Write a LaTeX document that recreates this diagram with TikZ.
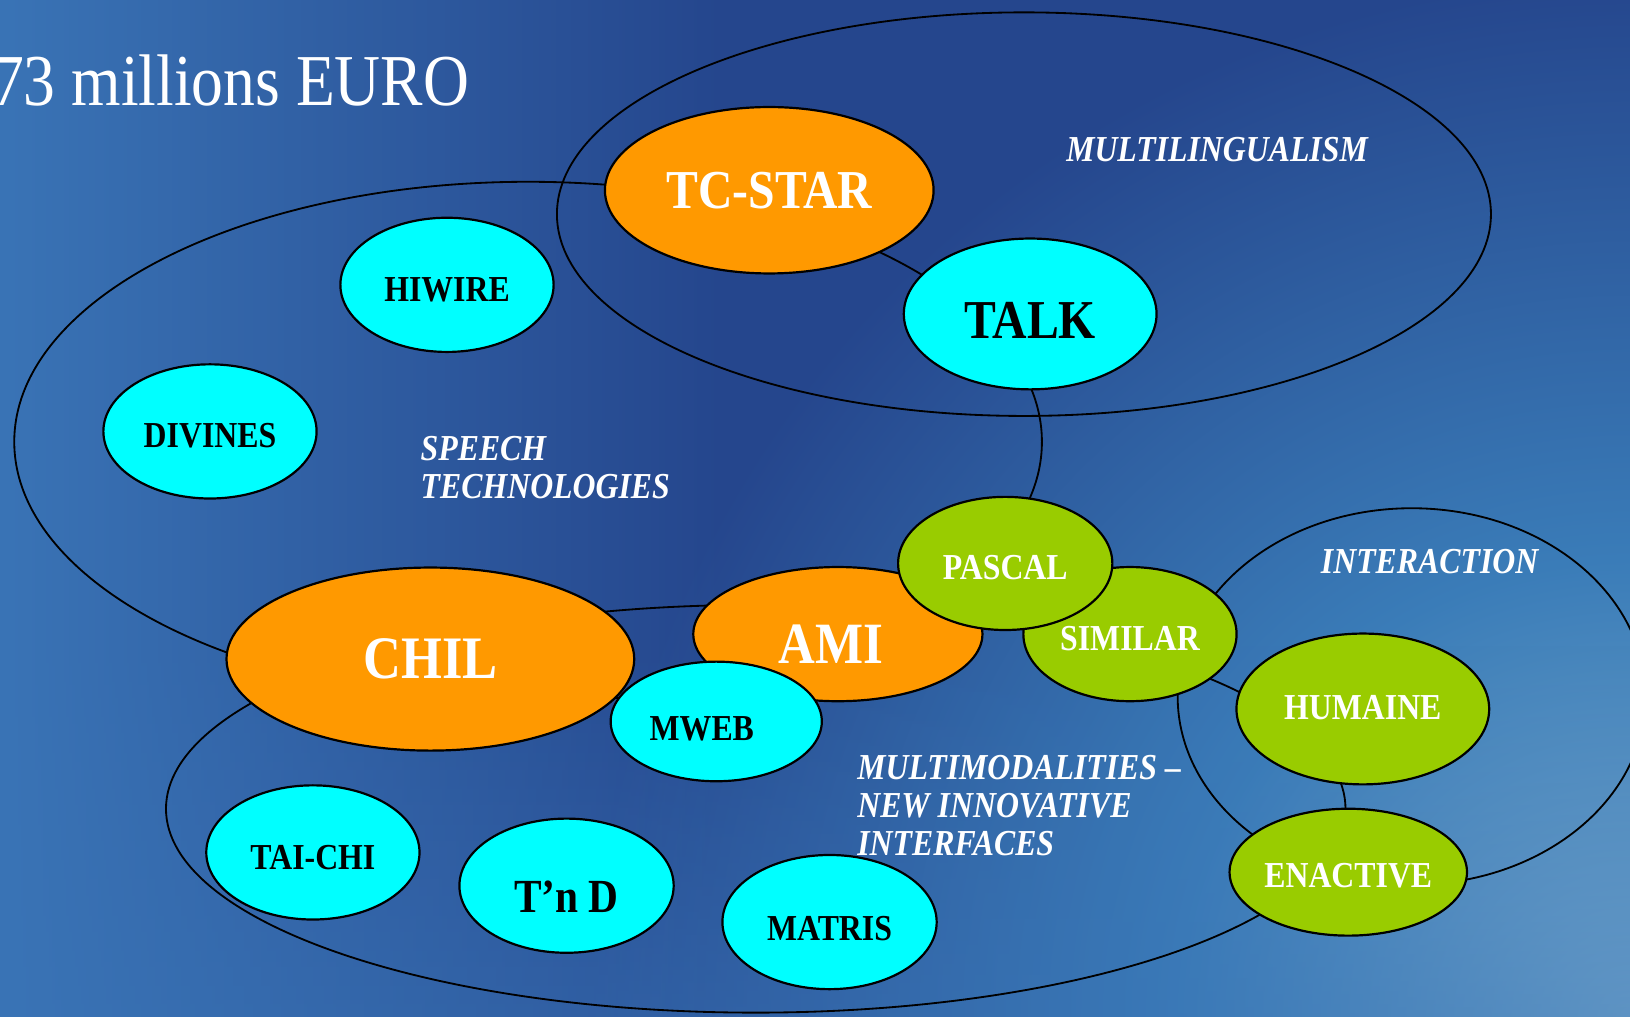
\documentclass[tikz,border=0pt]{standalone}
\usepackage{fontspec}
\setmainfont{Liberation Serif}
\newfontfamily\projfont[FakeStretch=0.87]{Liberation Serif}
\usepackage{xcolor}
\usepackage{tikz}
\usetikzlibrary{shapes.geometric, fadings}
\definecolor{bgdark}{HTML}{25468D}
\definecolor{bgleft}{HTML}{3A74B6}
\definecolor{bgmid}{HTML}{3A7CB8}
\definecolor{bgglow}{HTML}{7AACCE}
\definecolor{projorange}{HTML}{FF9900}
\definecolor{projcyan}{HTML}{00FFFF}
\definecolor{projgreen}{HTML}{99CC00}
\pgfdeclareradialshading{cornerglow}{\pgfpoint{0bp}{0bp}}{%
  color(0bp)=(bgglow); color(11bp)=(bgmid); color(25bp)=(bgdark); color(50bp)=(bgdark)}

\begin{document}
\begin{tikzpicture}[
  x=0.01cm, y=-0.01cm,
  group/.style={ellipse, draw=black, line width=0.5pt, inner sep=0pt},
  proj/.style={
    ellipse, draw=black, line width=0.6pt, inner sep=0pt,
    text height=8.9pt, text depth=0pt,
    font=\projfont\bfseries\fontsize{10}{11}\selectfont
  },
  orangeproj/.style={proj, fill=projorange, text=white},
  cyanproj/.style={proj, fill=projcyan, text=black},
  greenproj/.style={proj, fill=projgreen, text=white},
  theme/.style={
    text=white, align=left, inner sep=0pt,
    font=\projfont\bfseries\itshape\fontsize{10}{10.4}\selectfont
  },
]
\useasboundingbox (0,0) rectangle (1568,978);

% Background
\fill[bgdark] (0,0) rectangle (1568,978);
\begin{scope}
  \clip (0,0) rectangle (1568,978);
  \shade[shading=cornerglow] (1568,978) circle (1000);
\end{scope}
\fill[bgleft, path fading=north, opacity=0.45] (0,620) rectangle (1568,978);
\fill[bgleft, path fading=east] (0,0) rectangle (700,978);

% Title
\node[anchor=base east, text=white, inner sep=0pt,
  font=\projfont\fontsize{20}{24}\selectfont] (budget) at (452,101) {73 millions EURO};

% Groups
\node[group, minimum width=8.98cm, minimum height=3.88cm] (mlingual) at (985,206) {};
\node[group, minimum width=9.88cm, minimum height=5.00cm] (speech) at (508,425) {};
\node[group, minimum width=11.34cm, minimum height=3.92cm] (mmodal) at (727,778) {};
\node[group, minimum width=4.50cm, minimum height=3.62cm] (interact) at (1358,670) {};

\node[theme, anchor=base west] (mlingualtxt) at (1025,155) {MULTILINGUALISM};
\node[theme, anchor=north west] (speechtxt) at (404,419) {SPEECH\\TECHNOLOGIES};
\node[theme, anchor=base west] (interacttxt) at (1270,552) {INTERACTION};
\node[theme, anchor=north west] (mmodaltxt) at (824,726) {MULTIMODALITIES –\\NEW INNOVATIVE\\INTERFACES};

% Projects
\node[orangeproj, minimum width=3.16cm, minimum height=1.60cm, text height=9.9pt,
  font=\projfont\bfseries\fontsize{15}{16}\selectfont] (tcstar) at (740,183) {TC-STAR};
\node[cyanproj, minimum width=2.43cm, minimum height=1.45cm, text height=13.3pt,
  font=\projfont\bfseries\fontsize{15}{16}\selectfont] (talk) at (991,302) {TALK};
\node[cyanproj, minimum width=2.05cm, minimum height=1.29cm] (hiwire) at (430,274) {HIWIRE};
\node[cyanproj, minimum width=2.05cm, minimum height=1.29cm] (divines) at (202,415) {DIVINES};

\node[orangeproj, minimum width=3.92cm, minimum height=1.76cm, text height=10.9pt,
  font=\projfont\bfseries\fontsize{16.5}{18}\selectfont] (chil) at (414,634) {CHIL};
\node[orangeproj, minimum width=2.78cm, minimum height=1.29cm, text height=16.3pt,
  text width=1.14cm, align=left,
  font=\projfont\bfseries\fontsize{16}{18}\selectfont] (ami) at (806,610) {AMI};
\node[greenproj, minimum width=2.05cm, minimum height=1.29cm] (similar) at (1087,610) {SIMILAR};
\node[greenproj, minimum width=2.06cm, minimum height=1.28cm] (pascal) at (967,542) {PASCAL};
\node[cyanproj, minimum width=2.03cm, minimum height=1.15cm, text height=10.6pt,
  text width=1.28cm, align=left] (mweb) at (689,694) {MWEB};

\node[greenproj, minimum width=2.43cm, minimum height=1.45cm, text height=5.5pt] (humaine) at (1311,682) {HUMAINE};
\node[greenproj, minimum width=2.15cm, minimum height=1.22cm, text height=8.3pt] (enactive) at (1297,839) {ENACTIVE};

\node[cyanproj, minimum width=2.05cm, minimum height=1.29cm, text height=9.4pt] (taichi) at (301,820) {TAI-CHI};
\node[cyanproj, minimum width=2.06cm, minimum height=1.29cm, text height=14.8pt,
  font=\projfont\bfseries\fontsize{13}{14}\selectfont] (tnd) at (545,852) {T’n D};
\node[cyanproj, minimum width=2.06cm, minimum height=1.29cm, text height=10pt] (matris) at (798,887) {MATRIS};

\end{tikzpicture}
\end{document}
